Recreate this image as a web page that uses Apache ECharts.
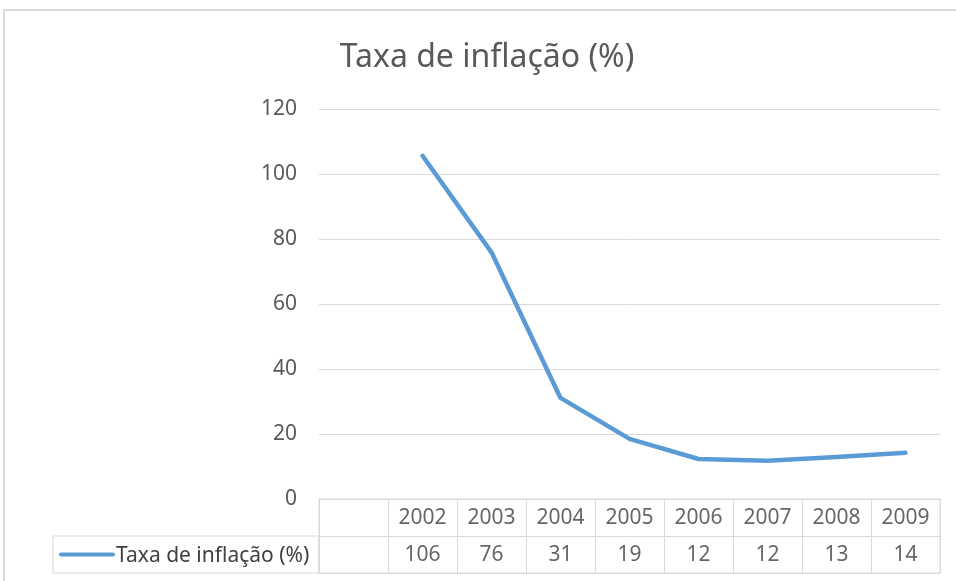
<!DOCTYPE html>
<html>
<head>
<meta charset="utf-8">
<script src="https://cdn.jsdelivr.net/npm/echarts@6/dist/echarts.min.js"></script>
<style>
html,body{margin:0;padding:0;background:#fff;}
#c{width:956px;height:581px;}
</style>
</head>
<body>
<div id="c"></div>
<script>
const titleText = 'Taxa de inflação (%)';
const seriesName = 'Taxa de inflação (%)';
const years = ['2002', '2003', '2004', '2005', '2006', '2007', '2008', '2009'];
const inflation = [105.6, 75.9, 31.1, 18.5, 12.3, 11.8, 12.9, 14.2];
const yTicks = [0, 20, 40, 60, 80, 100, 120];

const FONT = 'Noto Sans';
const LINE_COLOR = '#5b9bd5';
const GRID_COLOR = '#d9d9d9';

// first band of the category axis is the empty table column
const cats = [''].concat(years);
const lineData = [null].concat(inflation);
const tableLabels = inflation.map(v => String(Math.round(v)));

const tableData = [];
years.forEach((y, i) => {
  tableData.push({ value: [y, 'header'], label: { formatter: y } });
  tableData.push({ value: [y, 'values'], label: { formatter: tableLabels[i] } });
});

const chart = echarts.init(document.getElementById('c'), null, { renderer: 'canvas' });
chart.setOption({
  backgroundColor: '#fff',
  animation: false,
  title: {
    text: titleText,
    left: 482, top: 37, textAlign: 'center',
    textStyle: { fontFamily: FONT, fontSize: 32, fontWeight: 'normal', color: '#595959' }
  },
  grid: [
    { left: 319, top: 109, width: 621, height: 390 },
    { left: 319, top: 499, width: 621, height: 74, show: true, borderColor: GRID_COLOR, borderWidth: 1 }
  ],
  xAxis: [
    {
      gridIndex: 0, type: 'category', data: cats, boundaryGap: true,
      axisLine: { show: true, lineStyle: { color: GRID_COLOR, width: 1 } },
      axisTick: { show: false }, axisLabel: { show: false }, splitLine: { show: false }
    },
    {
      gridIndex: 1, type: 'category', data: cats, boundaryGap: true,
      axisLine: { show: false }, axisTick: { show: false }, axisLabel: { show: false },
      splitLine: { show: true, lineStyle: { color: GRID_COLOR, width: 1 } }
    }
  ],
  yAxis: [
    {
      gridIndex: 0, type: 'value', min: 0, max: 120, interval: 20,
      axisLine: { show: false }, axisTick: { show: false },
      axisLabel: { fontFamily: FONT, fontSize: 21, color: '#595959', margin: 22,
        formatter: v => yTicks.indexOf(v) >= 0 ? String(v) : '' },
      splitLine: { show: true, lineStyle: { color: GRID_COLOR, width: 1 } }
    },
    {
      gridIndex: 1, type: 'category', data: ['values', 'header'], boundaryGap: true,
      axisLine: { show: false }, axisTick: { show: false }, axisLabel: { show: false },
      splitLine: { show: true, lineStyle: { color: GRID_COLOR, width: 1 } }
    }
  ],
  graphic: [
    { type: 'rect', shape: { x: 53, y: 536, width: 266, height: 37 },
      style: { fill: 'none', stroke: GRID_COLOR, lineWidth: 1 }, silent: true },
    { type: 'line', shape: { x1: 61, y1: 554.5, x2: 113, y2: 554.5 },
      style: { stroke: LINE_COLOR, lineWidth: 4, lineCap: 'round' }, silent: true },
    { type: 'text', x: 116, y: 556,
      style: { text: seriesName, fontFamily: FONT, fontSize: 21, fill: '#404040',
        verticalAlign: 'middle', align: 'left' }, silent: true },
    { type: 'rect', shape: { x: 4, y: 10, width: 960, height: 580 },
      style: { fill: 'none', stroke: '#d9d9d9', lineWidth: 2 }, silent: true, z: -1 }
  ],
  series: [
    {
      name: seriesName, type: 'line', xAxisIndex: 0, yAxisIndex: 0,
      data: lineData, showSymbol: false, symbol: 'none', smooth: false,
      lineStyle: { color: LINE_COLOR, width: 4.5, join: 'round', cap: 'round' },
      connectNulls: false
    },
    {
      type: 'scatter', xAxisIndex: 1, yAxisIndex: 1, data: tableData,
      symbolSize: 0, silent: true,
      label: { show: true, position: 'inside', offset: [0, 1], fontFamily: FONT, fontSize: 21, color: '#404040' }
    }
  ]
});
</script>
</body>
</html>
